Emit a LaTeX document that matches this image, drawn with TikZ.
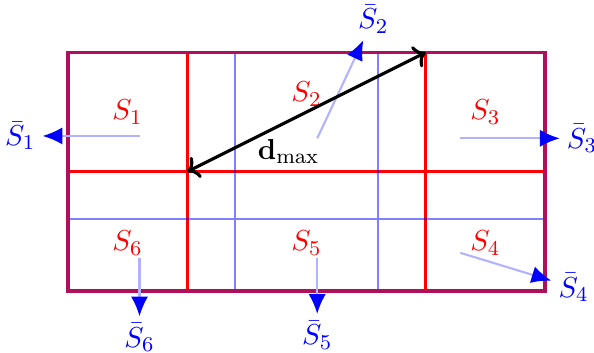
\documentclass[tikz,border=0pt]{standalone}
\usetikzlibrary{arrows.meta}
\definecolor{frame}{RGB}{176,16,90}
\tikzset{
  redline/.style={red, very thick},
  blueline/.style={blue, thick, opacity=0.5},
  flux/.style={blue!30, thick, -{Latex[color=blue, length=7.5pt, width=6.5pt]}},
}
\begin{document}
\begin{tikzpicture}[x=1.59cm, y=1.59cm, font=\fontsize{11pt}{13pt}\selectfont]
  \useasboundingbox (-0.570,-0.520) rectangle (4.411,2.440);
  % cuts
  \draw[redline] (1,0) -- (1,2) (3,0) -- (3,2) (0,1) -- (4,1);
  \draw[blueline] (1.4,0) -- (1.4,2) (2.6,0) -- (2.6,2) (0,0.6) -- (4,0.6);
  \draw[frame, very thick] (0,0) rectangle (4,2);
  % parts
  \foreach \i/\x/\y in {1/0.5/1.5, 2/2.0/1.65, 3/3.5/1.5, 4/3.5/0.4, 5/2.0/0.4, 6/0.5/0.4}
    \node[red] (S\i) at (\x,\y) {$S_\i$};
  % fluxes
  \foreach \i/\cx/\cy/\bx/\by in {1/0.6/1.3/-0.40/1.3, 2/2.09/1.28/2.56/2.28,
      3/3.29/1.28/4.31/1.28, 4/3.29/0.32/4.24/0.03,
      5/2.09/0.28/2.09/-0.37, 6/0.6/0.28/0.6/-0.39} {
    \coordinate (c\i) at (\cx,\cy);
    \node[blue, inner sep=2.5pt] (Sb\i) at (\bx,\by) {$\bar{S}_\i$};
    \draw[flux] (c\i) -- (Sb\i);
  }
  % diameter
  \coordinate (dA) at (3,2);
  \coordinate (dB) at (1,1);
  \draw[very thick, <->] (dA) -- (dB);
  \node (dmax) at (1.85,1.17) {$\mathbf{d}_{\max}$};
\end{tikzpicture}
\end{document}
